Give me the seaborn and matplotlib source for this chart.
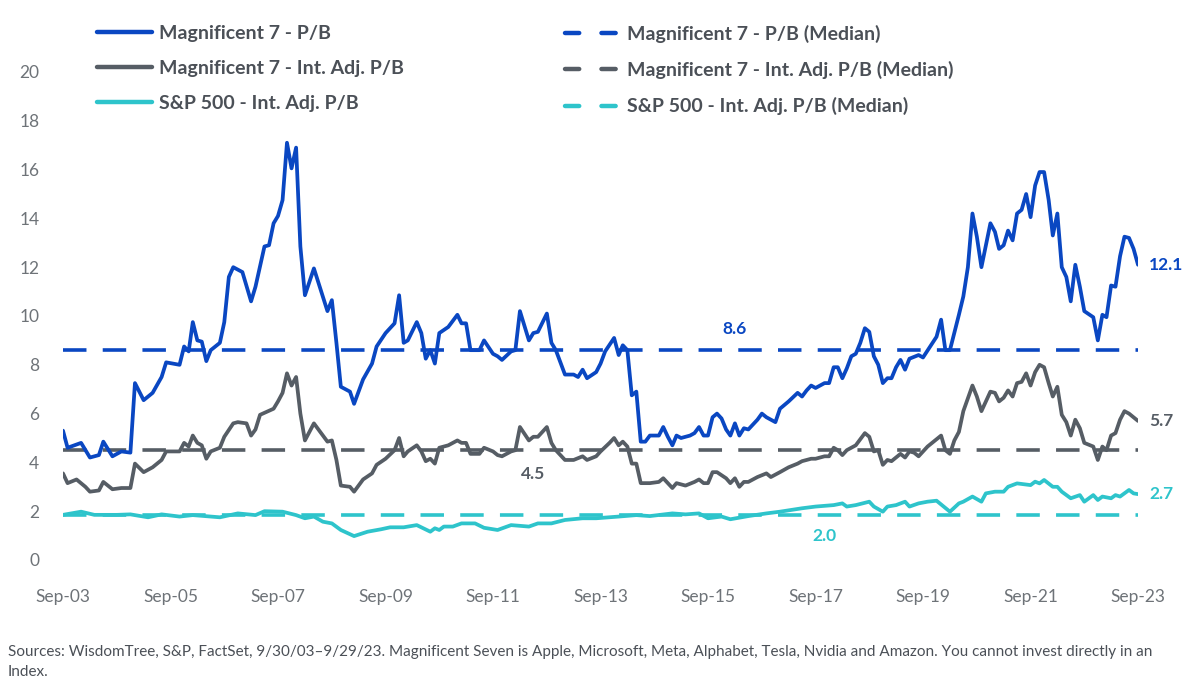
import pandas as pd
import matplotlib
matplotlib.use("Agg")
import matplotlib.pyplot as plt
from matplotlib.lines import Line2D
import seaborn as sns

# ---------------- data ----------------
series_names = ["Magnificent 7 - P/B",
                "Magnificent 7 - Int. Adj. P/B",
                "S&P 500 - Int. Adj. P/B"]
median_names = ["Magnificent 7 - P/B (Median)",
                "Magnificent 7 - Int. Adj. P/B (Median)",
                "S&P 500 - Int. Adj. P/B (Median)"]
series_start = "2003-09-30"   # month 0 of every series below (monthly, month-end)

mag7_pb_months = [0, 1, 4, 6, 8, 9, 11, 13, 15, 16, 18, 20, 22, 23, 26, 27, 28, 29, 30, 31,
                  32, 33, 35, 36, 37, 38, 40, 42, 43, 45, 46, 47, 48, 49, 50, 51, 52, 53, 54, 56,
                  59, 60, 61, 62, 64, 65, 67, 69, 70, 72, 74, 75, 76, 77, 79, 80, 81, 82, 83, 84,
                  86, 88, 89, 90, 91, 93, 94, 96, 97, 98, 100, 101, 102, 104, 105, 106, 108, 109, 110, 112,
                  114, 115, 116, 117, 119, 120, 121, 123, 124, 125, 126, 127, 128, 129, 130, 131, 133, 134, 135, 136,
                  137, 138, 140, 141, 142, 143, 144, 145, 146, 147, 148, 149, 150, 151, 152, 153, 155, 156, 157, 159,
                  160, 162, 164, 165, 166, 167, 168, 170, 171, 172, 173, 174, 175, 176, 177, 178, 179, 180, 181, 182,
                  183, 184, 185, 186, 187, 188, 189, 191, 192, 195, 196, 197, 198, 200, 201, 202, 203, 204, 205, 207,
                  208, 209, 210, 211, 212, 213, 214, 215, 216, 217, 218, 219, 220, 221, 222, 223, 224, 225, 226, 227,
                  228, 230, 231, 232, 233, 234, 235, 236, 237, 238, 239, 240]
mag7_pb_values = [5.3, 4.6, 4.8, 4.2, 4.3, 4.85, 4.25, 4.45, 4.4, 7.25, 6.55, 6.85, 7.5, 8.1, 8.0, 8.75, 8.55, 9.75, 9.0, 8.95,
                  8.15, 8.6, 8.9, 9.75, 11.6, 12.0, 11.8, 10.6, 11.2, 12.85, 12.9, 13.8, 14.1, 14.75, 17.1, 16.05, 16.9, 12.85, 10.85, 11.95,
                  10.2, 10.65, 8.9, 7.1, 6.9, 6.4, 7.4, 8.05, 8.75, 9.3, 9.7, 10.85, 8.9, 9.0, 9.75, 9.3, 8.25, 8.6, 8.05, 9.3,
                  9.55, 10.05, 9.7, 9.7, 8.6, 8.6, 9.0, 8.45, 8.35, 8.2, 8.55, 8.6, 10.2, 9.0, 9.3, 9.35, 10.1, 8.9, 8.6, 7.6,
                  7.6, 7.5, 7.8, 7.45, 7.7, 8.05, 8.55, 9.1, 8.4, 8.8, 8.6, 6.75, 6.9, 4.85, 4.85, 5.1, 5.1, 5.45, 5.05, 4.7,
                  5.1, 5.0, 5.1, 5.2, 5.45, 5.1, 5.1, 5.85, 6.0, 5.8, 5.35, 5.1, 5.6, 5.1, 5.4, 5.35, 5.75, 6.0, 5.85, 5.65,
                  6.2, 6.5, 6.85, 6.7, 6.95, 7.15, 7.05, 7.25, 7.25, 7.9, 7.9, 7.45, 7.85, 8.35, 8.45, 8.9, 9.5, 9.35, 8.35, 8.0,
                  7.25, 7.45, 7.45, 7.9, 8.2, 7.8, 8.25, 8.4, 8.3, 9.15, 9.85, 8.6, 8.6, 10.05, 10.8, 12.0, 14.2, 13.25, 12.0, 13.8,
                  13.45, 12.75, 12.9, 13.5, 13.1, 14.2, 14.35, 15.0, 14.05, 15.35, 15.9, 15.9, 14.75, 13.3, 14.2, 12.0, 11.6, 10.6, 12.1, 11.2,
                  10.2, 9.95, 9.0, 10.05, 9.95, 11.25, 11.2, 12.45, 13.25, 13.2, 12.75, 12.1]

mag7_adj_months = [0, 1, 3, 5, 6, 8, 9, 11, 13, 15, 16, 18, 20, 22, 23, 26, 27, 28, 29, 30,
                   31, 32, 33, 35, 36, 38, 39, 41, 42, 43, 44, 47, 48, 49, 50, 51, 52, 53, 54, 56,
                   59, 60, 61, 62, 64, 65, 67, 69, 70, 72, 74, 75, 76, 77, 79, 80, 81, 82, 83, 84,
                   86, 88, 89, 90, 91, 93, 94, 96, 97, 98, 100, 101, 102, 104, 105, 106, 108, 109, 110, 112,
                   114, 116, 117, 119, 120, 122, 123, 124, 125, 126, 127, 128, 129, 131, 133, 134, 135, 136, 137, 139,
                   141, 142, 143, 144, 145, 146, 148, 149, 150, 151, 152, 153, 155, 157, 158, 160, 162, 164, 165, 167,
                   168, 170, 171, 172, 173, 174, 175, 176, 177, 179, 180, 181, 182, 183, 184, 185, 187, 188, 189, 190,
                   191, 193, 196, 197, 198, 199, 200, 201, 203, 204, 205, 207, 208, 209, 210, 211, 212, 213, 214, 215,
                   216, 217, 218, 219, 220, 221, 222, 223, 224, 225, 226, 227, 228, 230, 231, 232, 233, 234, 235, 236,
                   237, 238, 239, 240]
mag7_adj_values = [3.55, 3.15, 3.3, 3.0, 2.8, 2.85, 3.2, 2.9, 2.95, 2.95, 3.95, 3.6, 3.8, 4.1, 4.45, 4.45, 4.8, 4.65, 5.1, 4.8,
                   4.7, 4.15, 4.45, 4.6, 5.05, 5.6, 5.65, 5.6, 5.1, 5.35, 5.95, 6.2, 6.5, 6.85, 7.65, 7.15, 7.5, 6.0, 4.9, 5.6,
                   4.85, 4.9, 4.1, 3.05, 3.0, 2.8, 3.3, 3.55, 3.9, 4.15, 4.5, 5.0, 4.25, 4.45, 4.7, 4.45, 4.05, 4.15, 3.95, 4.6,
                   4.7, 4.9, 4.8, 4.8, 4.35, 4.35, 4.6, 4.45, 4.3, 4.25, 4.45, 4.5, 5.45, 4.9, 5.05, 5.05, 5.45, 4.8, 4.5, 4.1,
                   4.1, 4.25, 4.1, 4.25, 4.45, 4.8, 5.0, 4.7, 4.85, 4.65, 3.95, 3.95, 3.15, 3.15, 3.2, 3.35, 3.15, 2.95, 3.15, 3.05,
                   3.2, 3.3, 3.15, 3.15, 3.6, 3.6, 3.35, 3.15, 3.35, 3.0, 3.2, 3.2, 3.4, 3.55, 3.4, 3.6, 3.8, 3.95, 4.05, 4.15,
                   4.15, 4.25, 4.25, 4.6, 4.5, 4.3, 4.5, 4.6, 4.7, 5.2, 5.05, 4.45, 4.5, 3.9, 4.1, 4.05, 4.35, 4.2, 4.45, 4.4,
                   4.25, 4.65, 5.1, 4.5, 4.35, 4.9, 5.25, 6.1, 7.15, 6.7, 6.1, 6.9, 6.85, 6.5, 6.65, 6.95, 6.7, 7.25, 7.3, 7.65,
                   7.15, 7.7, 8.0, 7.9, 7.25, 6.7, 7.1, 5.95, 5.65, 5.1, 5.75, 5.4, 4.8, 4.65, 4.1, 4.65, 4.5, 5.1, 5.2, 5.75,
                   6.1, 6.0, 5.85, 5.7]

sp500_adj_months = [0, 4, 7, 12, 15, 19, 22, 26, 29, 35, 39, 43, 45, 49, 52, 54, 56, 58, 60, 62,
                    65, 68, 71, 73, 76, 79, 82, 83, 84, 85, 87, 89, 92, 94, 97, 100, 104, 106, 109, 112,
                    116, 119, 124, 128, 131, 136, 139, 142, 144, 147, 149, 153, 157, 160, 165, 168, 172, 174, 175, 177,
                    180, 181, 183, 184, 186, 188, 189, 191, 193, 195, 198, 200, 201, 203, 205, 206, 208, 210, 211, 213,
                    216, 217, 218, 219, 221, 222, 223, 225, 227, 228, 230, 231, 232, 234, 235, 236, 238, 239, 240]
sp500_adj_values = [1.85, 1.98, 1.85, 1.85, 1.87, 1.75, 1.87, 1.78, 1.84, 1.75, 1.91, 1.84, 2.0, 1.98, 1.84, 1.71, 1.78, 1.57, 1.5, 1.23,
                    0.98, 1.16, 1.26, 1.34, 1.34, 1.43, 1.16, 1.3, 1.23, 1.37, 1.37, 1.5, 1.5, 1.32, 1.23, 1.43, 1.37, 1.5, 1.5, 1.64,
                    1.71, 1.71, 1.78, 1.84, 1.8, 1.91, 1.87, 1.91, 1.71, 1.78, 1.67, 1.8, 1.91, 1.98, 2.12, 2.19, 2.25, 2.32, 2.19, 2.25,
                    2.39, 2.19, 1.98, 2.19, 2.25, 2.39, 2.19, 2.32, 2.39, 2.43, 1.98, 2.32, 2.39, 2.6, 2.39, 2.73, 2.8, 2.8, 3.0, 3.14,
                    3.07, 3.21, 3.14, 3.28, 3.0, 3.0, 2.8, 2.53, 2.66, 2.39, 2.66, 2.46, 2.6, 2.53, 2.66, 2.6, 2.87, 2.73, 2.7]

median_values = [8.6, 4.5, 1.85]
median_labels = ["8.6", "4.5", "2.0"]
end_labels = ["12.1", "5.7", "2.7"]

xtick_dates = ["2003-09-30", "2005-09-30", "2007-09-30", "2009-09-30", "2011-09-30", "2013-09-30",
               "2015-09-30", "2017-09-30", "2019-09-30", "2021-09-30", "2023-09-30"]
xtick_labels = ["Sep-03", "Sep-05", "Sep-07", "Sep-09", "Sep-11", "Sep-13",
                "Sep-15", "Sep-17", "Sep-19", "Sep-21", "Sep-23"]
ytick_values = [0, 2, 4, 6, 8, 10, 12, 14, 16, 18, 20]

footnote = ("Sources: WisdomTree, S&P, FactSet, 9/30/03\u20139/29/23. Magnificent Seven is Apple, Microsoft, Meta, "
            "Alphabet, Tesla, Nvidia and Amazon. You cannot invest directly in an\nIndex.")

# ---------------- styling ----------------
colors = ["#0A47C2", "#565D65", "#2EC4CB"]
text_color = "#4B5057"
tick_color = "#6E7378"
median_label_months = [150, 105, 170]     # where the median labels sit along x
median_label_offsets = [15, -17, -15]     # points above/below the dashed line

def month_dates(months):
    base = pd.Timestamp(series_start)
    return [base + pd.offsets.MonthEnd(m) for m in months]

sns.set_theme(style="white")
plt.rcParams["font.family"] = ["Lato", "DejaVu Sans"]

fig = plt.figure(figsize=(12, 6.95), dpi=100)
ax = fig.add_axes([63 / 1200, 1 - 560 / 695, (1138 - 63) / 1200, (560 - 72) / 695])

all_months = [mag7_pb_months, mag7_adj_months, sp500_adj_months]
all_values = [mag7_pb_values, mag7_adj_values, sp500_adj_values]
all_dates = [month_dates(m) for m in all_months]
first_date = all_dates[0][0]
last_date = all_dates[0][-1]

# median dashed lines (drawn first, under the series)
for med, col in zip(median_values, colors):
    sns.lineplot(x=[first_date, last_date], y=[med, med], ax=ax, color=col,
                 linewidth=2.6, linestyle=(0, (6.5, 4.5)),
                 dash_capstyle="butt", zorder=2)

for dates, vals, col in zip(all_dates, all_values, colors):
    sns.lineplot(x=dates, y=vals, ax=ax, color=col, linewidth=2.7, zorder=3,
                 estimator=None, sort=False)

# median labels
for m, med, lab, off, col in zip(median_label_months, median_values, median_labels,
                                 median_label_offsets, colors):
    ax.annotate(lab, xy=(month_dates([m])[0], med), xytext=(0, off), textcoords="offset points",
                ha="center", va="center", fontsize=12.5, fontweight="bold", color=col)

# end-of-series labels
for dates, vals, lab, col in zip(all_dates, all_values, end_labels, colors):
    ax.annotate(lab, xy=(dates[-1], vals[-1]), xytext=(8, 0), textcoords="offset points",
                ha="left", va="center", fontsize=12.5, fontweight="bold", color=col,
                annotation_clip=False)

ax.set_xlim(first_date, last_date)
ax.set_ylim(0, 20)
ax.set_xticks(pd.to_datetime(xtick_dates))
ax.set_xticklabels(xtick_labels)
ax.set_yticks(ytick_values)
ax.set_yticklabels([str(v) for v in ytick_values])
ax.tick_params(axis="both", length=0, labelsize=12.5, labelcolor=tick_color)
ax.tick_params(axis="y", pad=17)
ax.tick_params(axis="x", pad=21)
ax.set_xlabel("")
ax.set_ylabel("")
for s in ax.spines.values():
    s.set_visible(False)
ax.grid(False)

# legends: solid series (left column) and medians (right column)
solid_handles = [Line2D([0], [0], color=c, lw=3.2, solid_capstyle="round") for c in colors]
dash_handles = [Line2D([0], [0], color=c, lw=3.2, linestyle=(0, (3.2, 5.0)), dash_capstyle="round")
                for c in colors]
leg_kw = dict(loc="upper left", frameon=False, handlelength=2.85, handletextpad=0.32,
              labelspacing=0.93, prop={"weight": "bold", "size": 14}, labelcolor=text_color,
              borderaxespad=0, borderpad=0)
fig.legend(solid_handles, series_names, bbox_to_anchor=(97 / 1200, 1 - 25 / 695), **leg_kw)
fig.legend(dash_handles, median_names, bbox_to_anchor=(565 / 1200, 1 - 25 / 695), **leg_kw)

fig.text(8 / 1200, 1 - 645 / 695, footnote, ha="left", va="top", fontsize=11,
         color=text_color, linespacing=1.55)

fig.savefig("out.png", dpi=100, facecolor="white")
